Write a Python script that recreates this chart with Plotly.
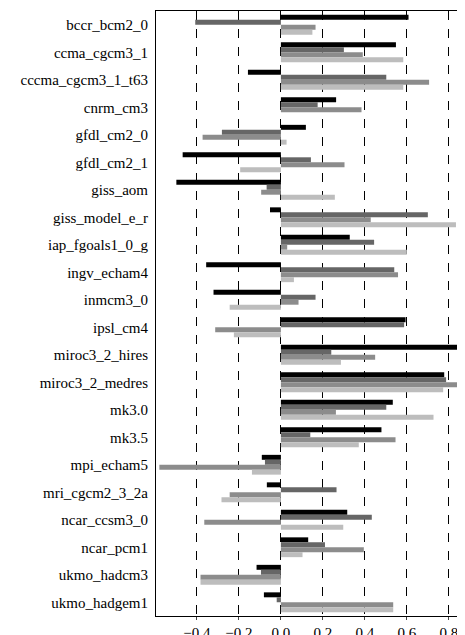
import plotly.graph_objects as go

models = ['bccr_bcm2_0', 'ccma_cgcm3_1', 'cccma_cgcm3_1_t63', 'cnrm_cm3', 'gfdl_cm2_0',
          'gfdl_cm2_1', 'giss_aom', 'giss_model_e_r', 'iap_fgoals1_0_g', 'ingv_echam4',
          'inmcm3_0', 'ipsl_cm4', 'miroc3_2_hires', 'miroc3_2_medres', 'mk3.0', 'mk3.5',
          'mpi_echam5', 'mri_cgcm2_3_2a', 'ncar_ccsm3_0', 'ncar_pcm1', 'ukmo_hadcm3',
          'ukmo_hadgem1']

s1 = [0.608, 0.548, -0.157, 0.263, 0.119, -0.468, -0.498, -0.052, 0.328, -0.356, -0.321,
      0.594, 0.863, 0.778, 0.533, 0.479, -0.091, -0.067, 0.316, 0.13, -0.116, -0.081]
s2 = [-0.408, 0.30, 0.502, 0.175, -0.281, 0.143, -0.068, 0.70, 0.444, 0.54, 0.165,
      0.587, 0.24, 0.787, 0.502, 0.14, -0.076, 0.265, 0.433, 0.21, -0.095, -0.02]
s3 = [0.165, 0.39, 0.706, 0.384, -0.373, 0.303, -0.094, 0.428, 0.03, 0.558, 0.084,
      -0.313, 0.449, 0.863, 0.262, 0.546, -0.579, -0.244, -0.365, 0.395, -0.383, 0.535]
s4 = [0.15, 0.583, 0.583, 0.0, 0.027, -0.194, 0.257, 0.834, 0.60, 0.062, -0.244,
      -0.224, 0.286, 0.773, 0.727, 0.371, -0.138, -0.283, 0.297, 0.103, -0.383, 0.535]

colors = ['#000000', '#666666', '#8c8c8c', '#bdbdbd']

fig = go.Figure()
for vals, c in zip([s1, s2, s3, s4], colors):
    fig.add_trace(go.Bar(y=models, x=vals, orientation='h', marker_color=c,
                         marker_line_width=0, showlegend=False))

fig.update_layout(
    width=465, height=635, barmode='group', bargap=0.28, bargroupgap=0,
    plot_bgcolor='white', paper_bgcolor='white',
    margin=dict(l=148, r=8, t=2, b=26),
    font=dict(family='Liberation Serif', size=15, color='black'),
)
fig.update_xaxes(range=[-0.595, 0.877], tickvals=[-0.6, -0.4, -0.2, 0.0, 0.2, 0.4, 0.6, 0.8],
                 tickformat='.1f', showgrid=True, gridcolor='black', griddash='dash',
                 gridwidth=1, zeroline=False, showline=True, linecolor='black', mirror=True,
                 ticks='outside', ticklen=3, tickfont=dict(size=15))
fig.update_yaxes(autorange='reversed', showline=True, linecolor='black', mirror=True,
                 ticks='', showgrid=False, ticklabelstandoff=4)
fig.write_html("out.html")
